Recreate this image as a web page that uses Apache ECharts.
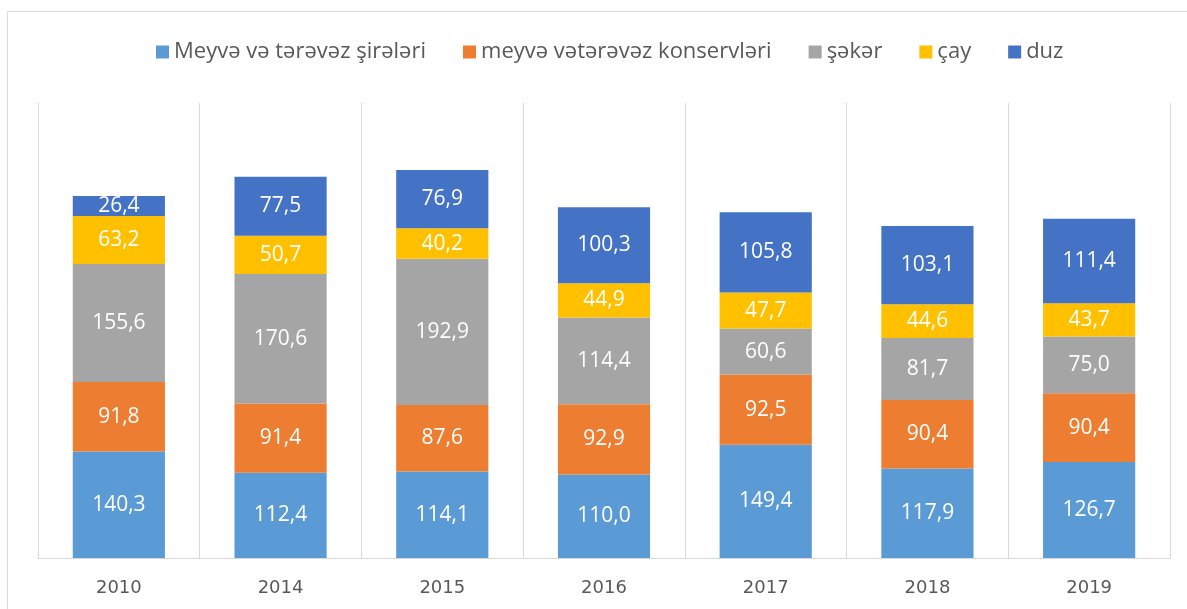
<!DOCTYPE html>
<html>
<head>
<meta charset="utf-8">
<script src="https://cdn.jsdelivr.net/npm/echarts@6/dist/echarts.min.js"></script>
<style>
html,body{margin:0;padding:0;background:#fff;}
#c{width:1187px;height:609px;}
</style>
</head>
<body>
<div id="c"></div>
<script>
const categories = ['2010','2014','2015','2016','2017','2018','2019'];
const seriesNames = ['Meyvə və tərəvəz şirələri','meyvə vətərəvəz konservləri','şəkər','çay','duz'];
const juices = [140.3,112.4,114.1,110.0,149.4,117.9,126.7];
const canned = [91.8,91.4,87.6,92.9,92.5,90.4,90.4];
const sugar = [155.6,170.6,192.9,114.4,60.6,81.7,75.0];
const tea = [63.2,50.7,40.2,44.9,47.7,44.6,43.7];
const salt = [26.4,77.5,76.9,100.3,105.8,103.1,111.4];
const colors = ['#5B9BD5','#ED7D31','#A5A5A5','#FFC000','#4472C4'];

const dataSets = [juices, canned, sugar, tea, salt];
const chart = echarts.init(document.getElementById('c'));
const fontFam = '"Open Sans", Lato, sans-serif';
chart.setOption({
  animation:false,
  color: colors,
  legend:{
    top: 36, left: 151,
    itemWidth: 13, itemHeight: 13, itemGap: 37,
    icon: 'rect',
    textStyle:{color:'#595959', fontSize:22, fontFamily:fontFam}
  },
  graphic:[{
    type:'rect', silent:true,
    shape:{x:7.5, y:11.5, width:1200, height:620},
    style:{fill:'none', stroke:'#D9D9D9', lineWidth:1}
  }],
  grid:{left:38, right:17, top:103, bottom:51},
  xAxis:{
    type:'category', data: categories,
    axisLine:{show:true, lineStyle:{color:'#D9D9D9'}},
    axisTick:{show:false},
    splitLine:{show:true, lineStyle:{color:'#D9D9D9'}},
    axisLabel:{color:'#595959', fontSize:18, margin:21, fontFamily:'"DejaVu Sans", sans-serif'}
  },
  yAxis:{type:'value', min:0, max:600, show:false, splitLine:{show:false}},
  series: dataSets.map((d,i)=>({
    name: seriesNames[i], type:'bar', stack:'total', data:d,
    barWidth:'57%',
    itemStyle:{color:colors[i]},
    label:{show:true, position:'inside', color:'#fff', fontSize:21, fontFamily:fontFam,
      formatter:p=>p.value.toFixed(1).replace('.',',')}
  }))
});
</script>
</body>
</html>
